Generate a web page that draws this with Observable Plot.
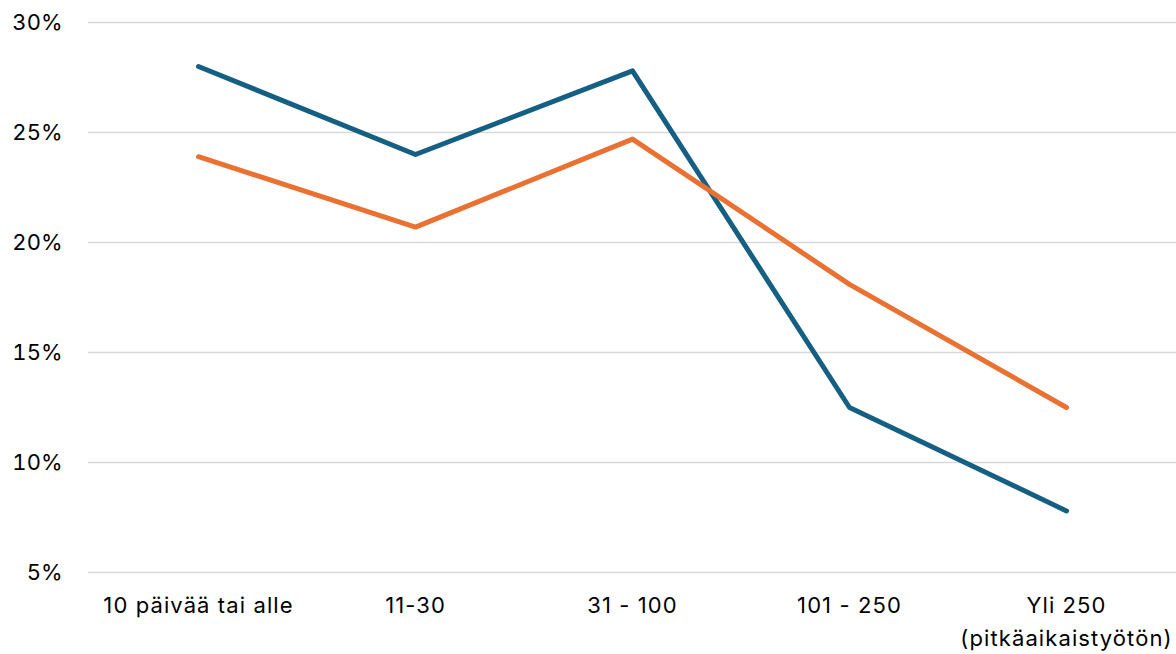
<!DOCTYPE html>
<html>
<head>
<meta charset="utf-8">
<script src="https://cdn.jsdelivr.net/npm/d3@7"></script>
<script src="https://cdn.jsdelivr.net/npm/@observablehq/plot@0.6"></script>
<style>
  html, body { margin: 0; padding: 0; background: #fff; }
  #chart { width: 1176px; height: 654px; }
  g[aria-label="x-axis tick label"] text { letter-spacing: 1.1px; }
</style>
</head>
<body>
<div id="chart"></div>
<script>
const categories = ["10 päivää tai alle", "11-30", "31 - 100", "101 - 250", "Yli 250\n(pitkäaikaistyötön)"];
const seriesA = [28.0, 24.0, 27.8, 12.5, 7.8];   // blue
const seriesB = [23.9, 20.7, 24.7, 18.1, 12.5];  // orange
const seriesNames = ["Sarja 1", "Sarja 2"];
const yTicks = [5, 10, 15, 20, 25, 30];
const colors = ["#156082", "#e97132"];

const data = [];
categories.forEach((c, i) => {
  data.push({cat: c, value: seriesA[i], series: seriesNames[0]});
  data.push({cat: c, value: seriesB[i], series: seriesNames[1]});
});

const chart = Plot.plot({
  width: 1176,
  height: 654,
  marginLeft: 88,
  marginRight: 0,
  marginTop: 22,
  marginBottom: 82,
  style: {fontFamily: "Inter, 'Liberation Sans', sans-serif", fontSize: "22px", color: "#000", background: "#fff"},
  x: {type: "point", domain: categories, padding: 0.5, label: null},
  y: {domain: [5, 30], ticks: yTicks, label: null},
  color: {domain: seriesNames, range: colors},
  marks: [
    Plot.gridY(yTicks, {stroke: "#d9d9d9", strokeOpacity: 1, strokeWidth: 1.5}),
    Plot.axisY({ticks: yTicks, tickSize: 0, tickPadding: 26, tickFormat: d => d + "%", label: null, fontSize: 22, fill: "#000"}),
    Plot.axisX({tickSize: 0, tickPadding: 17, label: null, fontSize: 22, fill: "#000", lineHeight: 1.5}),
    Plot.line(data, {x: "cat", y: "value", z: "series", stroke: "series", strokeWidth: 5, strokeLinecap: "round", strokeLinejoin: "round"})
  ]
});
document.getElementById("chart").appendChild(chart);
</script>
</body>
</html>
